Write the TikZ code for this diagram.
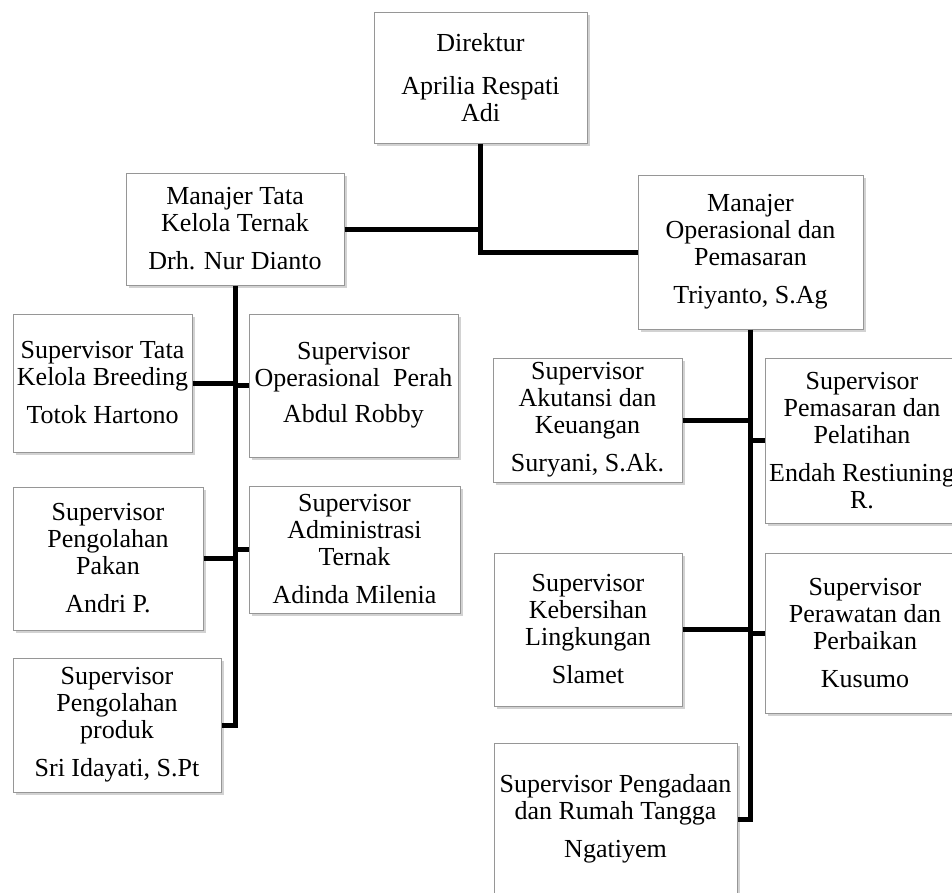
\documentclass[tikz,border=0pt]{standalone}
\usepackage{fontspec}
\setmainfont{Liberation Serif}
\usetikzlibrary{shadows}
\definecolor{boxline}{RGB}{150,150,150}
\tikzset{
  orgbox/.style={draw=boxline, line width=1pt, fill=white, inner sep=0pt,
    align=center, font=\fontsize{26}{27}\selectfont,
    drop shadow={shadow xshift=2.5pt, shadow yshift=-2.5pt, opacity=0.35, fill=gray}},
  link/.style={line width=5pt, black}
}
\begin{document}
\begin{tikzpicture}[x=1pt,y=-1pt]
\useasboundingbox (0,0) rectangle (952,892);
\clip (0,0) rectangle (952,892);
\fill[white] (0,0) rectangle (952,892);

% boxes
\node[orgbox, minimum width=213pt, minimum height=131pt] (dir) at (480.5,77.5)
  {Direktur\\[16pt]Aprilia Respati\\Adi};
\node[orgbox, minimum width=218pt, minimum height=112pt] (mtk) at (235,229)
  {Manajer Tata\\Kelola Ternak\\[11pt]Drh. Nur Dianto};
\node[orgbox, minimum width=225pt, minimum height=154pt] (mop) at (750.5,252)
  {Manajer\\Operasional dan\\Pemasaran\\[11pt]Triyanto, S.Ag};

\node[orgbox, minimum width=179pt, minimum height=138pt] (sbreed) at (102.5,383)
  {Supervisor Tata\\Kelola Breeding\\[11pt]Totok Hartono};
\node[orgbox, minimum width=209pt, minimum height=143pt] (sperah) at (353.5,385.5)
  {Supervisor\\Operasional\ \ Perah\\[9pt]Abdul Robby};
\node[orgbox, minimum width=190pt, minimum height=143pt] (spakan) at (108,558.5)
  {Supervisor\\Pengolahan\\Pakan\\[11pt]Andri P.};
\node[orgbox, minimum width=211pt, minimum height=127pt] (sadm) at (354.5,549.5)
  {Supervisor\\Administrasi\\Ternak\\[11pt]Adinda Milenia};
\node[orgbox, minimum width=208pt, minimum height=134pt] (sprod) at (117,725)
  {Supervisor\\Pengolahan\\produk\\[11pt]Sri Idayati, S.Pt};

\node[orgbox, minimum width=189pt, minimum height=124pt] (sakun) at (587.5,420)
  {Supervisor\\Akutansi dan\\Keuangan\\[11pt]Suryani, S.Ak.};
\node[orgbox, minimum width=194pt, minimum height=165pt] (spem) at (862,440.5)
  {Supervisor\\Pemasaran dan\\Pelatihan\\[11pt]Endah Restiuning\\R.};
\node[orgbox, minimum width=188pt, minimum height=153pt] (skeb) at (588,629.5)
  {Supervisor\\Kebersihan\\Lingkungan\\[11pt]Slamet};
\node[orgbox, minimum width=200pt, minimum height=160pt] (sperw) at (865,633)
  {Supervisor\\Perawatan dan\\Perbaikan\\[11pt]Kusumo};
\node[orgbox, minimum width=243pt, minimum height=152pt] (speng) at (615.5,819)
  {Supervisor Pengadaan\\dan Rumah Tangga\\[11pt]Ngatiyem};

% connectors
\draw[link] (dir.south) -- (dir.south |- mop.west) -- (mop.west);
\draw[link] (mtk.east) -- (mtk.east -| dir.south);

\draw[link] (mtk.south) -- (mtk.south |- sprod.east) -- (sprod.east);
\draw[link] (sbreed.east) -- (sbreed.east -| mtk.south);
\draw[link] (sperah.west) -- (sperah.west -| mtk.south);
\draw[link] (spakan.east) -- (spakan.east -| mtk.south);
\draw[link] (sadm.west) -- (sadm.west -| mtk.south);

\draw[link] (mop.south) -- (mop.south |- speng.east) -- (speng.east);
\draw[link] (sakun.east) -- (sakun.east -| mop.south);
\draw[link] (spem.west) -- (spem.west -| mop.south);
\draw[link] (skeb.east) -- (skeb.east -| mop.south);
\draw[link] (sperw.west) -- (sperw.west -| mop.south);
\end{tikzpicture}
\end{document}
